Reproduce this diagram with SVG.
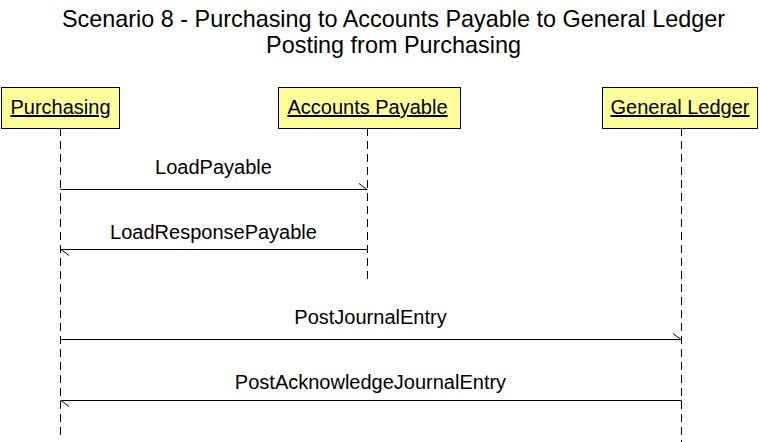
<svg xmlns="http://www.w3.org/2000/svg" width="760" height="442" viewBox="0 0 760 442">
<style>
text{font-family:"Liberation Sans",Arial,sans-serif;fill:#000}
.title{font-size:23.4px;text-anchor:middle}
.node rect{fill:#ffff99;stroke:#000;stroke-width:1}
.node text{font-size:20px;text-anchor:middle;text-decoration:underline}
.life{stroke:#000;stroke-width:1;stroke-dasharray:8,5;fill:none}
.msg line{stroke:#000;stroke-width:1}
.msg path{stroke:#000;stroke-width:1;fill:none}
.msg text{font-size:20px;text-anchor:middle}
</style>
<rect width="760" height="442" fill="#fff"/>
<text class="title" x="393.5" y="27">Scenario 8 - Purchasing to Accounts Payable to General Ledger</text>
<text class="title" x="393.5" y="53">Posting from Purchasing</text>
<g id="lifelines">
<line class="life" x1="60.5" y1="128" x2="60.5" y2="438"/>
<line class="life" x1="367.5" y1="128" x2="367.5" y2="282"/>
<line class="life" x1="681.5" y1="128" x2="681.5" y2="442"/>
</g>
<g id="purchasing" class="node">
<rect x="1.5" y="87.5" width="118" height="41"/>
<text x="60.5" y="114">Purchasing</text>
</g>
<g id="accounts-payable" class="node">
<rect x="278.5" y="87.5" width="182" height="41"/>
<text x="367.5" y="114">Accounts Payable</text>
</g>
<g id="general-ledger" class="node">
<rect x="602.5" y="87.5" width="155" height="41"/>
<text x="680" y="114">General Ledger</text>
</g>
<g id="connectors" class="msg">
<line x1="60.5" y1="189.5" x2="367.5" y2="189.5"/>
<path d="M359 183.5 L367 189.5"/>
<text x="213.5" y="174">LoadPayable</text>
<line x1="60.5" y1="249.5" x2="367.5" y2="249.5"/>
<path d="M61 249.5 L69 255.5"/>
<text x="213.5" y="239">LoadResponsePayable</text>
<line x1="60.5" y1="339.5" x2="681.5" y2="339.5"/>
<path d="M673 333.5 L681 339.5"/>
<text x="370.5" y="324">PostJournalEntry</text>
<line x1="60.5" y1="400.5" x2="681.5" y2="400.5"/>
<path d="M61 400.5 L69 406.5"/>
<text x="370.5" y="389">PostAcknowledgeJournalEntry</text>
</g>
</svg>
